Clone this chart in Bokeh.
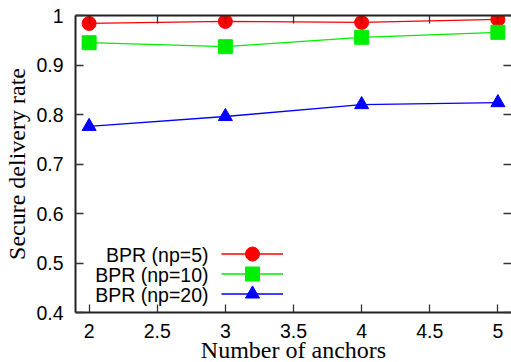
from bokeh.plotting import figure
from bokeh.models import (LinearAxis, FixedTicker, Legend, LegendItem, Label, Range1d, Title)
from bokeh.embed import file_html
from bokeh.resources import INLINE

anchors = [2, 3, 4, 5]
np5 = [0.984, 0.988, 0.986, 0.992]
np10 = [0.945, 0.937, 0.956, 0.966]
np20 = [0.776, 0.796, 0.820, 0.824]
series_names = ["BPR (np=5)", "BPR (np=10)", "BPR (np=20)"]
x_ticks = [2, 2.5, 3, 3.5, 4, 4.5, 5]
y_ticks = [0.4, 0.5, 0.6, 0.7, 0.8, 0.9, 1.0]
x_title = "Number of anchors"
y_title = "Secure delivery rate"

TICK_FONT = "Liberation Sans"
LABEL_FONT = "Liberation Serif"

p = figure(width=511, height=362, output_backend="svg", toolbar_location=None,
           x_range=Range1d(1.9, 5.1), y_range=Range1d(0.4, 1.0),
           min_border_left=75, min_border_right=0, min_border_top=15, min_border_bottom=50,
           x_axis_type=None, y_axis_type=None)
p.outline_line_color = None
p.xgrid.visible = False
p.ygrid.visible = False
p.background_fill_color = "white"
p.border_fill_color = "white"

def style_axis(ax, ticks, show_labels, line=True):
    ax.ticker = FixedTicker(ticks=ticks)
    ax.major_tick_in = 8
    ax.major_tick_out = 0
    ax.major_tick_line_width = 1.3
    ax.major_tick_line_color = "#333333"
    ax.minor_tick_line_color = None
    ax.axis_line_width = 2
    ax.axis_line_color = "#222222" if line else None
    if show_labels:
        ax.major_label_text_font = TICK_FONT
        ax.major_label_text_font_size = "19.5px"
        ax.major_label_text_color = "black"
    else:
        ax.major_label_text_font_size = "0px"
        ax.major_label_text_color = None
        ax.major_label_overrides = {t: "" for t in ticks}
        ax.major_label_standoff = 0

xb = LinearAxis()
style_axis(xb, x_ticks, True)
xb.major_label_standoff = 11
xb.major_label_overrides = {2: "2", 3: "3", 4: "4", 5: "5"}
p.add_layout(xb, "below")

xtitle = Title(text=x_title, align="center", vertical_align="bottom", standoff=-12,
               text_font=LABEL_FONT, text_font_size="24px", text_font_style="normal",
               text_color="black")
p.add_layout(xtitle, "below")

yl = LinearAxis(axis_label=y_title)
style_axis(yl, y_ticks, True)
yl.major_label_standoff = 12
yl.axis_label_standoff = 3
yl.axis_label_text_font = LABEL_FONT
yl.axis_label_text_font_style = "normal"
yl.axis_label_text_font_size = "24px"
yl.axis_label_text_color = "black"
yl.major_label_overrides = {1.0: "1"}
p.add_layout(yl, "left")

xt = LinearAxis()
style_axis(xt, x_ticks, False)
p.add_layout(xt, "above")

yr = LinearAxis()
style_axis(yr, y_ticks, False, line=False)
p.add_layout(yr, "right")

colors = ["#ff0000", "#00ee00", "#0000ff"]
markers = ["circle", "square", "triangle"]
sizes = [14, 14, 14]
for i, (vals, col, mk, sz) in enumerate(zip([np5, np10, np20], colors, markers, sizes)):
    r1 = p.line(anchors, vals, line_color=col, line_width=1.3)
    r2 = p.scatter(anchors, vals, marker=mk, size=sz, fill_color=col, line_color=col)
    leg = Legend(items=[LegendItem(label=" ", renderers=[r1, r2])],
                 location=(146, 41.5 - 20 * i), glyph_width=62, glyph_height=35,
                 label_height=20, spacing=0, padding=0, margin=0,
                 border_line_color=None, background_fill_alpha=0,
                 label_text_alpha=0, label_standoff=0, label_width=1)
    p.add_layout(leg, "center")
    p.add_layout(Label(x=133, y=58 - 20 * i, x_units="screen", y_units="screen",
                       text=series_names[i], text_align="right", text_baseline="middle",
                       text_font=TICK_FONT, text_font_size="19.5px", text_color="black"))

open("out.html", "w").write(file_html(p, INLINE))
